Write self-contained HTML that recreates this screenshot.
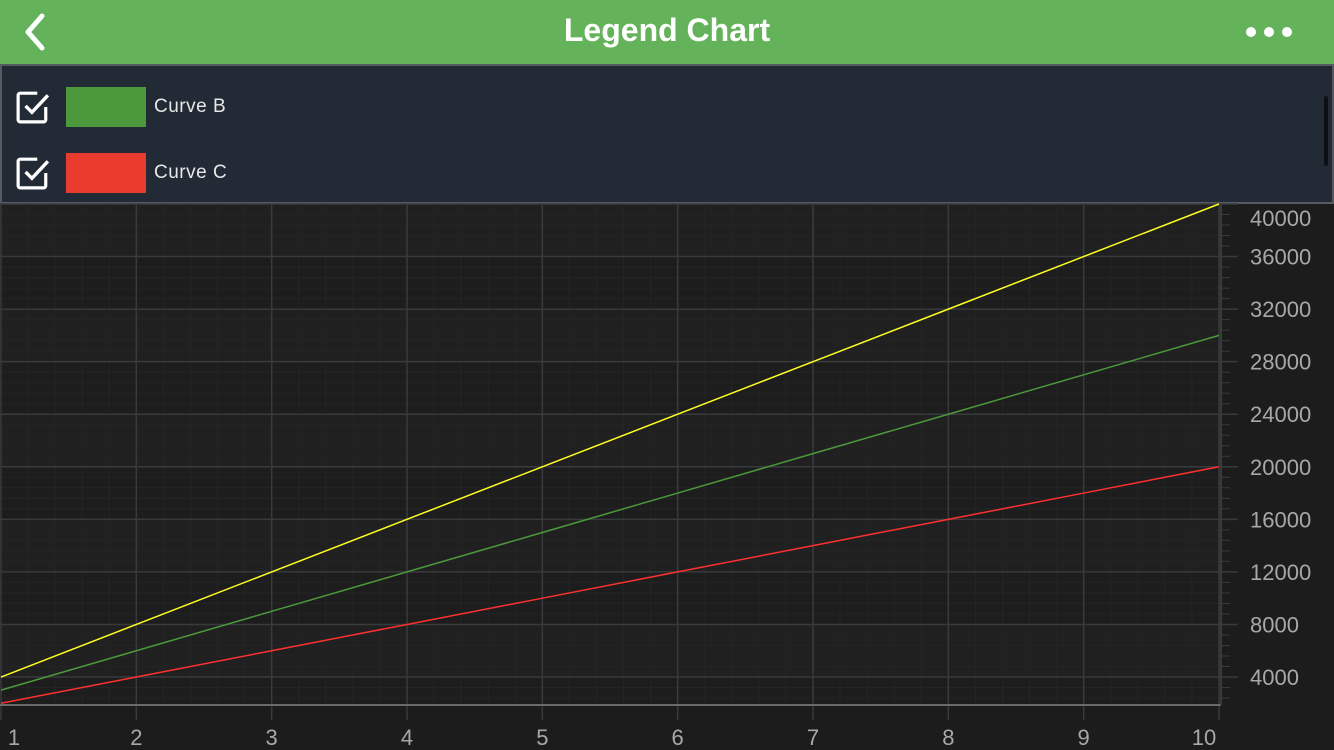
<!DOCTYPE html>
<html><head><meta charset="utf-8"><style>
html,body{margin:0;padding:0;background:#1c1c1c;width:1334px;height:750px;overflow:hidden;font-family:"Liberation Sans",sans-serif}
#hdr{position:absolute;left:0;top:0;width:1334px;height:64px;background:#64b35a}
#title{position:absolute;left:0;width:1334px;top:12px;text-align:center;color:#fff;font-size:32px;font-weight:bold}
#legend{position:absolute;left:0;top:64px;width:1330px;height:136px;background:#212a35;border:2px solid #555b60}
.item{position:absolute;left:14px;height:40px;width:400px}
.cb{position:absolute;left:0;top:3px;width:34px;height:34px}
.sw{position:absolute;left:50px;top:0;width:80px;height:40px}
.lbl{position:absolute;left:138px;top:9px;color:#e8e8e8;font-size:19px;white-space:nowrap;letter-spacing:0.5px}
</style></head><body>
<div id="hdr">
<svg style="position:absolute;left:20px;top:12px" width="30" height="40"><polyline points="22,4 8,20 22,36" fill="none" stroke="#fff" stroke-width="5" stroke-linecap="round" stroke-linejoin="round"/></svg>
<div id="title">Legend Chart</div>
<svg style="position:absolute;left:1240px;top:22px" width="60" height="20"><circle cx="11" cy="10" r="5" fill="#fff"/><circle cx="29" cy="10" r="5" fill="#fff"/><circle cx="47" cy="10" r="5" fill="#fff"/></svg>
</div>
<div id="legend">
<div class="item" style="top:21px">
<svg class="cb" viewBox="0 0 32 32"><path d="M28 16 V28 a2 2 0 0 1 -2 2 H4 a2 2 0 0 1 -2 -2 V5 a2 2 0 0 1 2 -2 H20" fill="none" stroke="#fff" stroke-width="3"/><polyline points="9,15 15,21 30,5" fill="none" stroke="#fff" stroke-width="3.2"/></svg>
<div class="sw" style="background:#4c993b"></div>
<div class="lbl">Curve B</div></div>
<div class="item" style="top:87px">
<svg class="cb" viewBox="0 0 32 32"><path d="M28 16 V28 a2 2 0 0 1 -2 2 H4 a2 2 0 0 1 -2 -2 V5 a2 2 0 0 1 2 -2 H20" fill="none" stroke="#fff" stroke-width="3"/><polyline points="9,15 15,21 30,5" fill="none" stroke="#fff" stroke-width="3.2"/></svg>
<div class="sw" style="background:#e93b2e"></div>
<div class="lbl">Curve C</div></div>
<div style="position:absolute;left:1322px;top:30px;width:4px;height:70px;background:#0c1016;border-radius:2px"></div>
</div>
<svg id="chart" style="position:absolute;left:0;top:0" width="1334" height="750"></svg>
<script>
const xValues=[1,2,3,4,5,6,7,8,9,10];
const curveA=[4000,8000,12000,16000,20000,24000,28000,32000,36000,40000];
const curveB=[3000,6000,9000,12000,15000,18000,21000,24000,27000,30000];
const curveC=[2000,4000,6000,8000,10000,12000,14000,16000,18000,20000];
const xTicks=[1,2,3,4,5,6,7,8,9,10];
const yTicks=[4000,8000,12000,16000,20000,24000,28000,32000,36000,40000];
const NS="http://www.w3.org/2000/svg",svg=document.getElementById('chart');
const L=1,R=1219,T=204,B=705,xmin=1,xmax=10,ymin=1870,ymax=40000;
const X=v=>L+(v-xmin)/(xmax-xmin)*(R-L);
const Y=v=>B-(v-ymin)/(ymax-ymin)*(B-T);
function mk(t,a,p){const e=document.createElementNS(NS,t);for(const k in a)e.setAttribute(k,a[k]);(p||svg).appendChild(e);return e;}
const bg=mk('rect',{x:0,y:T,width:1221,height:B-T,fill:'#1d1d1d'});


for(let i=0;i<yTicks.length;i+=2){const y1=Y(yTicks[i]+4000),y0=Y(yTicks[i]);mk('rect',{x:0,y:Math.max(T,y1),width:1221,height:y0-Math.max(T,y1),fill:'#202020'});}
for(let v=xmin;v<=xmax;v+=0.2){const x=X(v);mk('line',{x1:x,x2:x,y1:T,y2:B,stroke:'#242424','stroke-width':1});}
for(let v=0;v<=ymax;v+=800){if(v<ymin)continue;const y=Y(v);mk('line',{x1:0,x2:1221,y1:y,y2:y,stroke:'#242424','stroke-width':1});}
xTicks.forEach((v,i)=>{const x=X(v);const g=mk('line',{x1:x,x2:x,y1:T,y2:720,stroke:'#383a3d','stroke-width':1.5});


const t=mk('text',{x:i==0?14:(i==xTicks.length-1?1204:x),y:745,fill:'#a8a8a8','font-size':22,'text-anchor':'middle','font-family':'Liberation Sans'});t.textContent=v;

});
yTicks.forEach((v,i)=>{const y=Y(v);mk('line',{x1:0,x2:1238,y1:y,y2:y,stroke:'#383a3d','stroke-width':1.5});
const t=mk('text',{x:1250,y:(i==yTicks.length-1?Y(v)+14:y)+8,fill:'#a8a8a8','font-size':22,'font-family':'Liberation Sans'});t.textContent=v;

});
for(let v=0;v<=ymax;v+=800){if(v<ymin)continue;mk('line',{x1:1221,x2:1230,y1:Y(v),y2:Y(v),stroke:'#383a3d'});}
mk('line',{x1:0,x2:1221,y1:B,y2:B,stroke:'#6a6a6a','stroke-width':2});
mk('line',{x1:1221,x2:1221,y1:T,y2:B,stroke:'#3a3a3a','stroke-width':2});
[[curveA,'#ffff22','curve-a-line'],[curveB,'#4c993b','curve-b-line'],[curveC,'#ff3030','curve-c-line']].forEach(([d,c,n])=>{
const p=mk('polyline',{points:xValues.map((v,i)=>X(v)+','+Y(d[i])).join(' '),fill:'none',stroke:c,'stroke-width':1.5});

});
</script>
</body></html>
